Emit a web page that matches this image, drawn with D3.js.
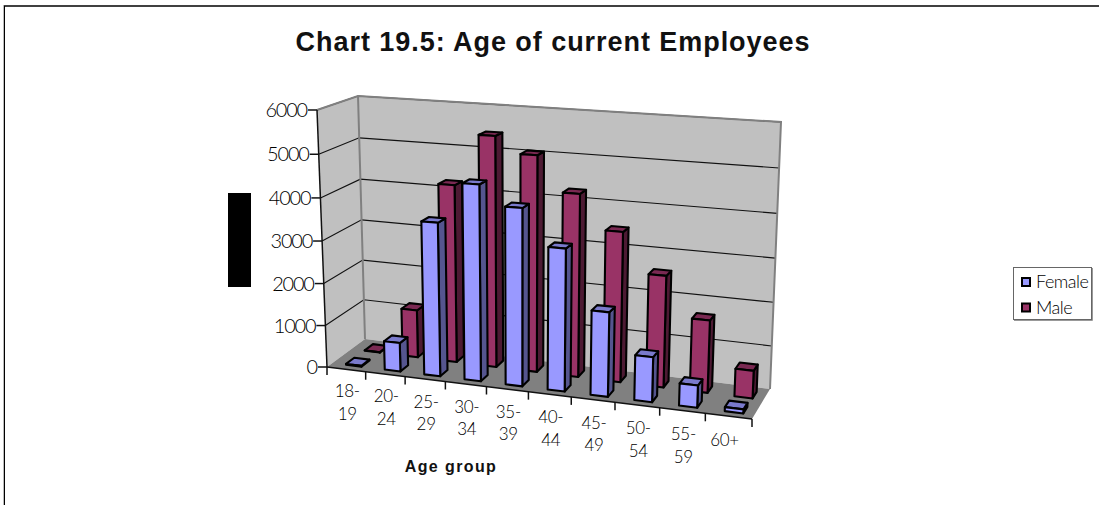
<!DOCTYPE html>
<html>
<head>
<meta charset="utf-8">
<script src="https://cdn.jsdelivr.net/npm/d3@7"></script>
<style>
  html, body { margin: 0; padding: 0; background: #fff; }
  svg { display: block; }
  .tick-label { font-family: Lato, sans-serif; font-weight: 300; fill: #000; }
</style>
</head>
<body>
<div id="chart"></div>
<script>
// values
var categories = ["18-19", "20-24", "25-29", "30-34", "35-39", "40-44", "45-49", "50-54", "55-59", "60+"];
var femaleValues = [20, 680, 3580, 4520, 4070, 3250, 1920, 1020, 500, 90];
var maleValues = [10, 1150, 4220, 5420, 5050, 4250, 3470, 2570, 1660, 630];
var valueTicks = [0, 1000, 2000, 3000, 4000, 5000, 6000];
var seriesNames = ["Female", "Male"];
var seriesLists = [femaleValues, maleValues];

var width = 1099, height = 505;

// colours per series: front, side, top
var faceColors = {
  Female: { front: "#9999ff", side: "#55558f", top: "#7a7acc" },
  Male: { front: "#993366", side: "#4d1a33", top: "#7a2952" }
};

var svg = d3.select("#chart").append("svg")
  .attr("width", width)
  .attr("height", height);

// the 3d box as it lands on screen
var box = {
  fl0: [327, 367], fr0: [752, 419], bl0: [365, 339], br0: [770, 389],
  fl1: [317, 110], fr1: [764, 137], bl1: [358, 96], br1: [781, 122]
};

var x = d3.scaleBand().domain(categories).range([0, 1]).paddingInner(0.6).paddingOuter(0.3).align(0.6);
var y = d3.scaleLinear().domain([0, 6000]).range([0, 1]);
var depth = d3.scaleBand().domain(seriesNames).range([0, 1]).paddingInner(0.56).paddingOuter(0.28);

// perspective squeeze along one axis
function warp(t, k) { return t / (t + k * (1 - t)); }

function mix(a, b, t) { return [a[0] + (b[0] - a[0]) * t, a[1] + (b[1] - a[1]) * t]; }

function project(u, v, w) {
  var uu = warp(u, 1.11), vv = warp(v, 1.04);
  var f0 = mix(box.fl0, box.fr0, uu), f1 = mix(box.fl1, box.fr1, uu);
  var b0 = mix(box.bl0, box.br0, uu), b1 = mix(box.bl1, box.br1, uu);
  return mix(mix(f0, b0, w), mix(f1, b1, w), vv);
}

var line = d3.line();
function poly(points) { return line(points) + "Z"; }
function seg(a, b) { return line([a, b]); }

// walls and floor
var walls = svg.append("g");
walls.append("path").attr("d", poly([box.fl0, box.bl0, box.bl1, box.fl1])).attr("fill", "#c0c0c0");
walls.append("path").attr("d", poly([box.bl0, box.br0, box.br1, box.bl1])).attr("fill", "#c0c0c0");

// gridlines on both walls
var grid = svg.append("g").attr("fill", "none").attr("stroke", "#111").attr("stroke-width", 1.1);
grid.selectAll("path")
  .data(valueTicks.filter(function(d) { return d > 0; }))
  .enter().append("path")
  .attr("d", function(d) {
    return line([project(0, y(d), 0), project(0, y(d), 1), project(1, y(d), 1)]);
  });

svg.append("path").attr("d", poly([box.fl0, box.fr0, box.br0, box.bl0])).attr("fill", "#808080");

// wall edges
var edges = svg.append("g").attr("fill", "none").attr("stroke", "#808080").attr("stroke-width", 2);
edges.append("path").attr("d", line([box.fl1, box.bl1, box.br1, box.br0]));
edges.append("path").attr("d", seg(box.bl0, box.bl1));

// axis lines
var axisLines = svg.append("g").attr("fill", "none").attr("stroke", "#111").attr("stroke-width", 1.5);
axisLines.append("path").attr("d", seg(box.fl0, box.fl1));
axisLines.append("path").attr("d", seg(box.fl0, box.fr0));

// y ticks and labels
axisLines.selectAll(".ytick")
  .data(valueTicks)
  .enter().append("path")
  .attr("class", "ytick")
  .attr("d", function(d) {
    var p = project(0, y(d), 0);
    return seg([p[0] - 9, p[1]], p);
  });

svg.append("g").selectAll("text")
  .data(valueTicks)
  .enter().append("text")
  .attr("class", "tick-label")
  .attr("x", function(d) { return project(0, y(d), 0)[0] - 10; })
  .attr("y", function(d) { return project(0, y(d), 0)[1] + 7; })
  .attr("text-anchor", "end")
  .style("font-size", "20px")
  .style("letter-spacing", "-1.2px")
  .text(function(d) { return d; });

// x ticks sit on the category boundaries
var xTickPositions = d3.range(categories.length + 1).map(function(i) { return i * x.step(); });
axisLines.selectAll(".xtick")
  .data(xTickPositions)
  .enter().append("path")
  .attr("class", "xtick")
  .attr("d", function(d) {
    var p = project(d, 0, 0);
    return seg(p, [p[0], p[1] + 8]);
  });

// category labels, broken after the dash like the original
var catLabels = svg.append("g").selectAll("text")
  .data(categories)
  .enter().append("text")
  .attr("class", "tick-label")
  .attr("text-anchor", "middle")
  .style("font-size", "17px")
  .style("letter-spacing", "-0.3px");

catLabels.each(function(d, i) {
  var u = (i + 0.5) * x.step();
  var p = project(u, 0, 0);
  var parts = d.indexOf("-") > 0 ? [d.split("-")[0] + "-", d.split("-")[1]] : [d];
  d3.select(this).selectAll("tspan")
    .data(parts)
    .enter().append("tspan")
    .attr("x", p[0] + (parts.length > 1 ? 1 : -4))
    .attr("y", function(t, j) { return p[1] + 28 + u * 2 + j * 22.5; })
    .text(function(t) { return t; });
});

// bars: deeper series first, then left to right
var bars = [];
seriesNames.slice().reverse().forEach(function(name) {
  var values = seriesLists[seriesNames.indexOf(name)];
  categories.forEach(function(c, i) {
    bars.push({ series: name, category: c, value: values[i] });
  });
});

var barGroups = svg.append("g").selectAll("g")
  .data(bars)
  .enter().append("g")
  .attr("stroke", "#000")
  .attr("stroke-width", 2.1)
  .attr("stroke-linejoin", "round");

function barCorners(d) {
  var u0 = x(d.category), u1 = u0 + x.bandwidth();
  var w0 = depth(d.series), w1 = w0 + depth.bandwidth();
  var v = y(d.value);
  return {
    a: project(u0, 0, w0), b: project(u1, 0, w0), c: project(u1, v, w0), e: project(u0, v, w0),
    f: project(u1, 0, w1), g: project(u1, v, w1), h: project(u0, v, w1)
  };
}

barGroups.append("path")
  .attr("d", function(d) { var p = barCorners(d); return poly([p.b, p.f, p.g, p.c]); })
  .attr("fill", function(d) { return faceColors[d.series].side; });
barGroups.append("path")
  .attr("d", function(d) { var p = barCorners(d); return poly([p.e, p.c, p.g, p.h]); })
  .attr("fill", function(d) { return faceColors[d.series].top; });
barGroups.append("path")
  .attr("d", function(d) { var p = barCorners(d); return poly([p.a, p.b, p.c, p.e]); })
  .attr("fill", function(d) { return faceColors[d.series].front; });

// title
svg.append("text")
  .attr("x", 553)
  .attr("y", 51)
  .attr("text-anchor", "middle")
  .style("font-family", "'Liberation Sans', Arial, sans-serif")
  .style("font-weight", "bold")
  .style("font-size", "27px")
  .style("letter-spacing", "0.95px")
  .style("fill", "#111")
  .text("Chart 19.5: Age of current Employees");

// x axis title
svg.append("text")
  .attr("x", 451)
  .attr("y", 472)
  .attr("text-anchor", "middle")
  .style("font-family", "'Liberation Sans', Arial, sans-serif")
  .style("font-weight", "bold")
  .style("font-size", "16px")
  .style("letter-spacing", "1.4px")
  .style("fill", "#111")
  .text("Age group");

// blacked out y axis title
svg.append("rect")
  .attr("x", 228).attr("y", 193)
  .attr("width", 23).attr("height", 94)
  .attr("fill", "#000");

// frame, only the top and left edges fall inside the picture
svg.append("rect").attr("x", 3).attr("y", 5).attr("width", width - 3).attr("height", 2).attr("fill", "#404040");
svg.append("rect").attr("x", 3).attr("y", 5).attr("width", 1).attr("height", height - 5).attr("fill", "#bbb");
svg.append("rect").attr("x", 4).attr("y", 6).attr("width", 1).attr("height", height - 6).attr("fill", "#000");

// legend
var legend = svg.append("g");
legend.append("rect").attr("x", 1013.5).attr("y", 267.5)
  .attr("width", 78).attr("height", 52)
  .attr("fill", "#fff").attr("stroke", "#666").attr("stroke-width", 1);
legend.append("path").attr("d", line([[1092.5, 268], [1092.5, 320.5], [1014, 320.5]]))
  .attr("fill", "none").attr("stroke", "#999").attr("stroke-width", 1);

var legendRows = legend.selectAll(".row")
  .data(seriesNames)
  .enter().append("g")
  .attr("class", "row")
  .attr("transform", function(d, i) { return "translate(1022," + (278 + i * 25.5) + ")"; });

legendRows.append("rect")
  .attr("width", 8).attr("height", 8)
  .attr("fill", function(d) { return faceColors[d].front; })
  .attr("stroke", "#000").attr("stroke-width", 2);

legendRows.append("text")
  .attr("class", "tick-label")
  .attr("x", 14).attr("y", 10)
  .style("font-size", "18px")
  .style("letter-spacing", "-0.5px")
  .text(function(d) { return d; });
</script>
</body>
</html>
